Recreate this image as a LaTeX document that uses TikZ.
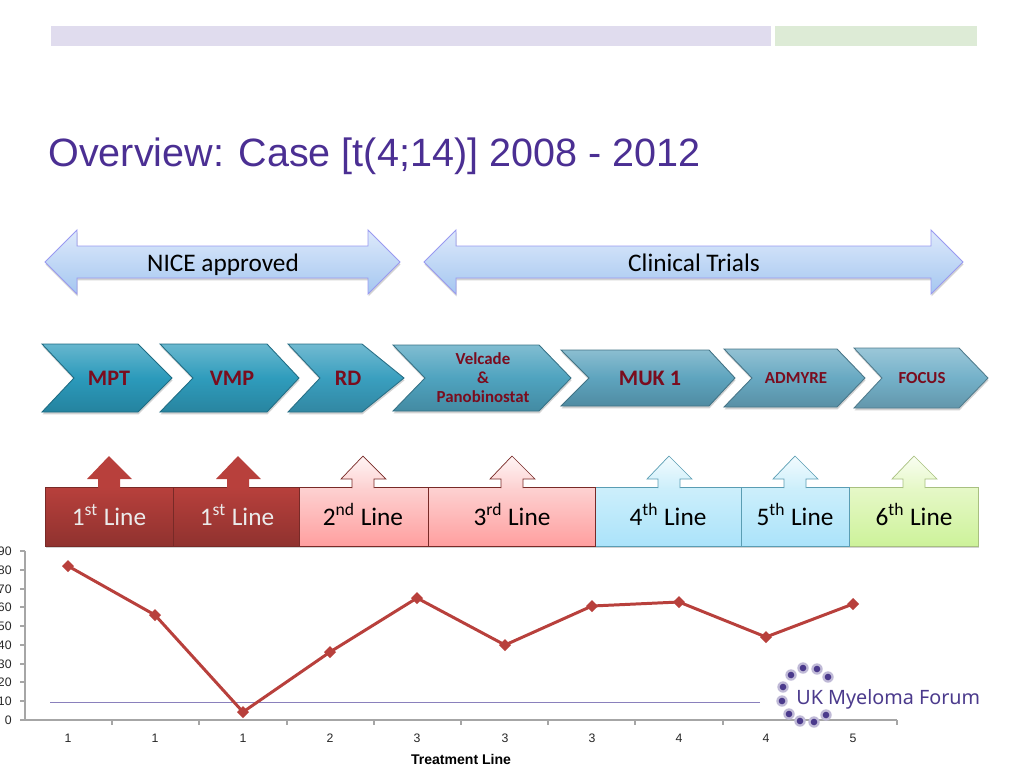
\documentclass[tikz,border=0pt]{standalone}
\usepackage{fontspec}
\setmainfont{Carlito}
\newfontfamily\arialfont{Liberation Sans}
\newfontfamily\logofont{Noto Sans}
\usetikzlibrary{shadows}
\definecolor{titlepurple}{HTML}{4B2F93}
\definecolor{logopurple}{HTML}{4B3A8C}
\definecolor{drugred}{HTML}{7A0C1E}
\definecolor{linered}{HTML}{B8403C}
\definecolor{chevmpt}{HTML}{2B9ABB}
\definecolor{chevvmp}{HTML}{2F9CBC}
\definecolor{chevrd}{HTML}{3A9FBF}
\definecolor{chevvel}{HTML}{4FA3BF}
\definecolor{chevmuk}{HTML}{5EA4BE}
\definecolor{chevadm}{HTML}{68A9C2}
\definecolor{chevfoc}{HTML}{74B1C9}
\definecolor{bannertop}{HTML}{DDE9FB}
\definecolor{bannerbot}{HTML}{A5C7F0}
\definecolor{pinka}{HTML}{FDD2D2}
\definecolor{pinkb}{HTML}{FF9F9F}
\definecolor{bluea}{HTML}{CDEFFB}
\definecolor{blueb}{HTML}{ABE3FA}
\definecolor{blueline}{HTML}{5A9DB3}
\definecolor{greena}{HTML}{E6F8C8}
\definecolor{greenb}{HTML}{CDF29A}
\definecolor{greenline}{HTML}{A8C080}
\definecolor{barlilac}{HTML}{E0DCEE}
\definecolor{bargreen}{HTML}{DDEBD6}
\definecolor{limitline}{HTML}{8A80BC}
\begin{document}
\begin{tikzpicture}[x=0.02cm,y=0.02cm]
	\tikzstyle{every node}+=[inner sep=0pt]
	\tikzstyle{softshadow}=[drop shadow={shadow xshift=0.3pt,shadow yshift=-1.3pt,opacity=0.25,fill=black!70}]
	\tikzstyle{banner}=[draw=black!15!blue!40!white,line width=0.5pt,top color=bannertop,bottom color=bannerbot,softshadow]
	\tikzstyle{bannertext}=[font=\fontsize{14.4}{16}\selectfont,black,anchor=base]
	\tikzstyle{chevron}=[draw=#1!70!black,line width=0.5pt,top color=#1!72!white,bottom color=#1!85!black,middle color=#1,softshadow]
	\tikzstyle{drugtext}=[font=\bfseries\fontsize{12.6}{14}\selectfont,drugred,align=center]
	\tikzstyle{smalldrug}=[font=\bfseries\fontsize{9.6}{10.8}\selectfont,drugred,align=center]
	\tikzstyle{darkbox}=[draw=black!35!linered,line width=0.4pt,top color=linered,bottom color=linered!78!black,softshadow]
	\tikzstyle{pinkbox}=[draw=black!35!linered,line width=0.4pt,top color=pinka,bottom color=pinkb,softshadow]
	\tikzstyle{bluebox}=[draw=blueline,line width=0.4pt,top color=bluea,bottom color=blueb,softshadow]
	\tikzstyle{greenbox}=[draw=greenline,line width=0.4pt,top color=greena,bottom color=greenb,softshadow]
	\tikzstyle{darkup}=[fill=linered]
	\tikzstyle{pinkup}=[draw=black!35!linered,line width=0.4pt,top color=red!4,bottom color=pinka]
	\tikzstyle{blueup}=[draw=blueline,line width=0.4pt,top color=bluea!25,bottom color=bluea]
	\tikzstyle{greenup}=[draw=greenline,line width=0.4pt,top color=greena!25,bottom color=greena]
	\tikzstyle{linetext}=[font=\fontsize{14.4}{16}\selectfont,anchor=base]
	\tikzstyle{axisline}=[draw=black!35,line width=0.8pt]
	\tikzstyle{axistext}=[font=\arialfont\fontsize{7}{8}\selectfont,black!85]
	\tikzstyle{halo}=[fill=logopurple!35]
	\tikzstyle{core}=[fill=logopurple]
	\useasboundingbox (0,0) rectangle (1024,-768);
	% header bars and title
	\fill [barlilac] (51,-26) rectangle (771,-46);
	\fill [bargreen] (775,-26) rectangle (977,-46);
	\node (title) [anchor=base west,text=titlepurple,font=\arialfont\fontsize{22.5}{26}\selectfont] at (48,-166) {Overview: Case [t(4;14)] 2008 - 2012};
	% double arrows
	\draw [banner] (45,-262) -- (77,-230) -- (77,-246) -- (368,-246) -- (368,-230) -- (400,-262) -- (368,-294) -- (368,-278) -- (77,-278) -- (77,-294) -- cycle;
	\node (nice) [bannertext] at (223,-271) {NICE approved};
	\draw [banner] (424,-262) -- (456,-230) -- (456,-246) -- (931,-246) -- (931,-230) -- (963,-262) -- (931,-294) -- (931,-278) -- (456,-278) -- (456,-294) -- cycle;
	\node (trials) [bannertext] at (694,-271) {Clinical Trials};
	% chevrons, last one first so that each tip lies on top
	\draw [chevron=chevfoc] (854,-348) -- (959,-348) -- (988,-378) -- (959,-408) -- (854,-408) -- (882,-378) -- cycle;
	\node (focus) [smalldrug] at (922,-378) {FOCUS};
	\draw [chevron=chevadm] (724,-349) -- (837,-349) -- (865,-378) -- (837,-407) -- (724,-407) -- (752,-378) -- cycle;
	\node (admyre) [smalldrug] at (796,-378) {ADMYRE};
	\draw [chevron=chevmuk] (561,-350) -- (709,-350) -- (735,-378) -- (709,-406) -- (561,-406) -- (589,-378) -- cycle;
	\node (muk) [drugtext] at (650,-378) {MUK 1};
	\draw [chevron=chevvel] (393,-345) -- (539,-345) -- (571,-378) -- (539,-411) -- (393,-411) -- (425,-378) -- cycle;
	\node (velcade) [smalldrug] at (483,-378) {Velcade\\\&\\Panobinostat};
	\draw [chevron=chevrd] (288,-344) -- (362,-344) -- (404,-378) -- (362,-412) -- (288,-412) -- (320,-378) -- cycle;
	\node (rd) [drugtext] at (348,-378) {RD};
	\draw [chevron=chevvmp] (160,-344) -- (267,-344) -- (299,-378) -- (267,-412) -- (160,-412) -- (193,-378) -- cycle;
	\node (vmp) [drugtext] at (232,-378) {VMP};
	\draw [chevron=chevmpt] (42,-344) -- (138,-344) -- (172,-378) -- (138,-412) -- (42,-412) -- (74,-378) -- cycle;
	\node (mpt) [drugtext] at (109,-378) {MPT};
	% line boxes
	\draw [greenbox] (849,-487) rectangle (978,-546);
	\node (sixth) [linetext] at (914,-525) {6\textsuperscript{th} Line};
	\draw [bluebox] (741,-487) rectangle (849,-546);
	\node (fifth) [linetext] at (795,-525) {5\textsuperscript{th} Line};
	\draw [bluebox] (595,-487) rectangle (741,-546);
	\node (fourth) [linetext] at (668,-525) {4\textsuperscript{th} Line};
	\draw [pinkbox] (428,-487) rectangle (595,-546);
	\node (third) [linetext] at (512,-525) {3\textsuperscript{rd} Line};
	\draw [pinkbox] (299,-487) rectangle (428,-546);
	\node (second) [linetext] at (363,-525) {2\textsuperscript{nd} Line};
	\draw [darkbox] (173,-487) rectangle (299,-546);
	\node (firstb) [linetext,white!92!black] at (237,-525) {1\textsuperscript{st} Line};
	\draw [darkbox] (45,-487) rectangle (173,-546);
	\node (firsta) [linetext,white!92!black] at (109,-525) {1\textsuperscript{st} Line};
	% up arrows
	\fill [darkup] (98,-488) -- (98,-479) -- (87,-479) -- (109,-456) -- (132,-479) -- (120,-479) -- (120,-488) -- cycle;
	\fill [darkup] (227,-488) -- (227,-479) -- (216,-479) -- (238,-456) -- (261,-479) -- (249,-479) -- (249,-488) -- cycle;
	\draw [pinkup] (352,-488) -- (352,-479) -- (341,-479) -- (363,-456) -- (386,-479) -- (374,-479) -- (374,-488);
	\draw [pinkup] (501,-488) -- (501,-479) -- (490,-479) -- (512,-456) -- (535,-479) -- (523,-479) -- (523,-488);
	\draw [blueup] (658,-488) -- (658,-479) -- (647,-479) -- (669,-456) -- (692,-479) -- (680,-479) -- (680,-488);
	\draw [blueup] (784,-488) -- (784,-479) -- (773,-479) -- (795,-456) -- (818,-479) -- (806,-479) -- (806,-488);
	\draw [greenup] (903,-488) -- (903,-479) -- (892,-479) -- (914,-456) -- (937,-479) -- (925,-479) -- (925,-488);
	% chart axes
	\coordinate (origin) at (25,-720);
	\coordinate (ytop) at (25,-551);
	\coordinate (xend) at (897,-720);
	\draw [axisline] (ytop) -- (origin) -- (xend);
	\draw [axisline] (20,-551) -- (25,-551);
	\draw [axisline] (20,-570) -- (25,-570);
	\draw [axisline] (20,-589) -- (25,-589);
	\draw [axisline] (20,-607) -- (25,-607);
	\draw [axisline] (20,-626) -- (25,-626);
	\draw [axisline] (20,-645) -- (25,-645);
	\draw [axisline] (20,-664) -- (25,-664);
	\draw [axisline] (20,-682) -- (25,-682);
	\draw [axisline] (20,-701) -- (25,-701);
	\draw [axisline] (20,-720) -- (25,-720);
	\node (y90) [axistext,anchor=east] at (12,-551) {90};
	\node (y80) [axistext,anchor=east] at (12,-570) {80};
	\node (y70) [axistext,anchor=east] at (12,-589) {70};
	\node (y60) [axistext,anchor=east] at (12,-607) {60};
	\node (y50) [axistext,anchor=east] at (12,-626) {50};
	\node (y40) [axistext,anchor=east] at (12,-645) {40};
	\node (y30) [axistext,anchor=east] at (12,-664) {30};
	\node (y20) [axistext,anchor=east] at (12,-682) {20};
	\node (y10) [axistext,anchor=east] at (12,-701) {10};
	\node (y0) [axistext,anchor=east] at (12,-720) {0};
	\draw [axisline] (112,-720) -- (112,-725);
	\draw [axisline] (199,-720) -- (199,-725);
	\draw [axisline] (287,-720) -- (287,-725);
	\draw [axisline] (374,-720) -- (374,-725);
	\draw [axisline] (461,-720) -- (461,-725);
	\draw [axisline] (548,-720) -- (548,-725);
	\draw [axisline] (635,-720) -- (635,-725);
	\draw [axisline] (723,-720) -- (723,-725);
	\draw [axisline] (810,-720) -- (810,-725);
	\draw [axisline] (897,-720) -- (897,-725);
	\node (xa) [axistext] at (68,-738) {1};
	\node (xb) [axistext] at (155,-738) {1};
	\node (xc) [axistext] at (243,-738) {1};
	\node (xd) [axistext] at (330,-738) {2};
	\node (xe) [axistext] at (417,-738) {3};
	\node (xf) [axistext] at (505,-738) {3};
	\node (xg) [axistext] at (592,-738) {3};
	\node (xh) [axistext] at (679,-738) {4};
	\node (xi) [axistext] at (766,-738) {4};
	\node (xj) [axistext] at (853,-738) {5};
	\node (xlabel) [font=\arialfont\bfseries\fontsize{8}{9}\selectfont] at (461,-759) {Treatment Line};
	% threshold and data line
	\coordinate (limita) at (50,-702);
	\coordinate (limitb) at (760,-702);
	\draw [limitline,line width=0.5pt] (limita) -- (limitb);
	\coordinate (pa) at (68,-566);
	\coordinate (pb) at (155,-615);
	\coordinate (pc) at (243,-712);
	\coordinate (pd) at (330,-652);
	\coordinate (pe) at (417,-598);
	\coordinate (pf) at (505,-645);
	\coordinate (pg) at (592,-606);
	\coordinate (ph) at (679,-602);
	\coordinate (pi) at (766,-637);
	\coordinate (pj) at (853,-604);
	\draw [linered,line width=1.7pt,line join=round] (pa) -- (pb) -- (pc) -- (pd) -- (pe) -- (pf) -- (pg) -- (ph) -- (pi) -- (pj);
	\fill [linered] (62,-566) -- (68,-560) -- (74,-566) -- (68,-572) -- cycle;
	\fill [linered] (149,-615) -- (155,-609) -- (161,-615) -- (155,-621) -- cycle;
	\fill [linered] (237,-712) -- (243,-706) -- (249,-712) -- (243,-718) -- cycle;
	\fill [linered] (324,-652) -- (330,-646) -- (336,-652) -- (330,-658) -- cycle;
	\fill [linered] (411,-598) -- (417,-592) -- (423,-598) -- (417,-604) -- cycle;
	\fill [linered] (499,-645) -- (505,-639) -- (511,-645) -- (505,-651) -- cycle;
	\fill [linered] (586,-606) -- (592,-600) -- (598,-606) -- (592,-612) -- cycle;
	\fill [linered] (673,-602) -- (679,-596) -- (685,-602) -- (679,-608) -- cycle;
	\fill [linered] (760,-637) -- (766,-631) -- (772,-637) -- (766,-643) -- cycle;
	\fill [linered] (847,-604) -- (853,-598) -- (859,-604) -- (853,-610) -- cycle;
	% logo
	\fill [halo] (803,-668) circle (5.7);
	\fill [core] (803,-668) circle (3.3);
	\fill [halo] (817,-669) circle (5.7);
	\fill [core] (817,-669) circle (3.3);
	\fill [halo] (828,-677) circle (5.7);
	\fill [core] (828,-677) circle (3.3);
	\fill [halo] (791,-675) circle (5.7);
	\fill [core] (791,-675) circle (3.3);
	\fill [halo] (783,-687) circle (5.7);
	\fill [core] (783,-687) circle (3.3);
	\fill [halo] (782,-701) circle (5.7);
	\fill [core] (782,-701) circle (3.3);
	\fill [halo] (789,-714) circle (5.7);
	\fill [core] (789,-714) circle (3.3);
	\fill [halo] (800,-721) circle (5.7);
	\fill [core] (800,-721) circle (3.3);
	\fill [halo] (814,-722) circle (5.7);
	\fill [core] (814,-722) circle (3.3);
	\fill [halo] (826,-715) circle (5.7);
	\fill [core] (826,-715) circle (3.3);
	\node (logo) [anchor=base west,text=logopurple,font=\logofont\fontsize{11.25}{13}\selectfont] at (796,-704) {UK Myeloma Forum};
\end{tikzpicture}
\end{document}
